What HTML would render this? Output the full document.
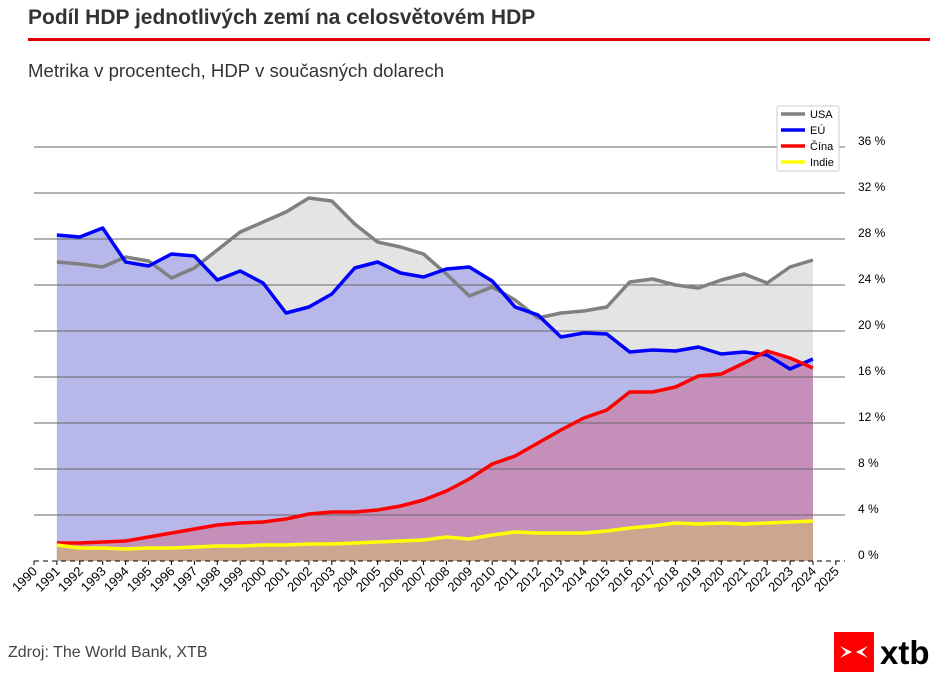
<!DOCTYPE html>
<html><head><meta charset="utf-8"><style>
body{margin:0;background:#fff;width:944px;height:682px;overflow:hidden;font-family:"Liberation Sans",sans-serif}
</style></head><body>
<svg id="s" width="944" height="682" xmlns="http://www.w3.org/2000/svg" font-family="Liberation Sans, sans-serif">
<text x="28" y="24" font-size="21" font-weight="bold" fill="#333">Podíl HDP jednotlivých zemí na celosvětovém HDP</text>
<rect x="28" y="38" width="902" height="3" fill="#e00000"/>
<text x="28" y="77" font-size="18.6" fill="#333">Metrika v procentech, HDP v současných dolarech</text>
<g id="g"></g>
<text x="8" y="657" font-size="16" fill="#444">Zdroj: The World Bank, XTB</text>
<rect x="834" y="632" width="40" height="40" fill="#f00"/>
<path d="M840 646 L852 652 L840 658 L846 652 Z M868 646 L856 652 L868 658 L862 652 Z" fill="#fff"/>
<text x="880" y="664" font-size="33" font-weight="bold" fill="#000">xtb</text>
</svg>
<script>
var g=document.getElementById('g'),h='';
function X(yr){return 34+(yr-1990)*22.91}
function Y(v){return 561-v*11.5}
for(var v=4;v<=36;v+=4){h+='<line x1="34" x2="845" y1="'+Y(v)+'" y2="'+Y(v)+'" stroke="#666" stroke-width="1"/>';}
for(var v=0;v<=36;v+=4){h+='<text x="858" y="'+(Y(v)-2)+'" font-size="12" fill="#000">'+v+' %</text>';}
var U=[262,264,267,257,261,278,268,250,232,222,212,198,201,224,242,247,254,274,296,287,300,318,313,311,307,282,279,285,288,280,274,283,267,260];
var E=[235,237,228,262,266,254,256,280,271,283,313,307,294,268,262,273,277,269,267,281,307,315,337,333,334,352,350,351,347,354,352,355,369,359];
var C=[543,543,542,541,537,533,529,525,523,522,519,514,512,512,510,506,500,491,479,464,456,443,430,418,410,392,392,387,376,374,363,351,358,368];
var I=[545,548,548,549,548,548,547,546,546,545,545,544,544,543,542,541,540,537,539,535,532,533,533,533,531,528,526,523,524,523,524,523,522,521];
function pts(a){return a.map(function(y,i){return X(1991+i).toFixed(1)+','+y}).join(' ')}
function area(a,c){return '<polygon points="'+X(1991)+',561 '+pts(a)+' '+X(2024)+',561" fill="'+c+'"/>'}
function line(a,c){return '<polyline points="'+pts(a)+'" fill="none" stroke="'+c+'" stroke-width="3.5" stroke-linejoin="round"/>'}
h=area(U,'#e4e4e4')+area(E,'#b7b7e9')+area(C,'#c490b9')+area(I,'#cea58e')+h;
h+=line(U,'#808080')+line(E,'#0000ff')+line(C,'#ff0000')+line(I,'#ffff00');
h+='<line x1="34" x2="845" y1="561" y2="561" stroke="#000" stroke-dasharray="5,4" stroke-width="1"/>';
for(var yr=1990;yr<=2025;yr++){var x=X(yr);h+='<line x1="'+x+'" x2="'+x+'" y1="561" y2="565" stroke="#000"/><text transform="translate('+(x+4)+',572) rotate(-45)" text-anchor="end" font-size="13" fill="#000">'+yr+'</text>';}
h+='<rect x="777" y="106" width="62" height="65" fill="#fff" stroke="#ccc" rx="2"/>';
var L=[['USA','#808080'],['EÚ','#0000ff'],['Čína','#ff0000'],['Indie','#ffff00']];
L.forEach(function(l,i){var y=114+i*16;h+='<line x1="781" x2="805" y1="'+y+'" y2="'+y+'" stroke="'+l[1]+'" stroke-width="3.5"/><text x="810" y="'+(y+4)+'" font-size="11" fill="#000">'+l[0]+'</text>';});
g.innerHTML=h;
</script>
</body></html>
